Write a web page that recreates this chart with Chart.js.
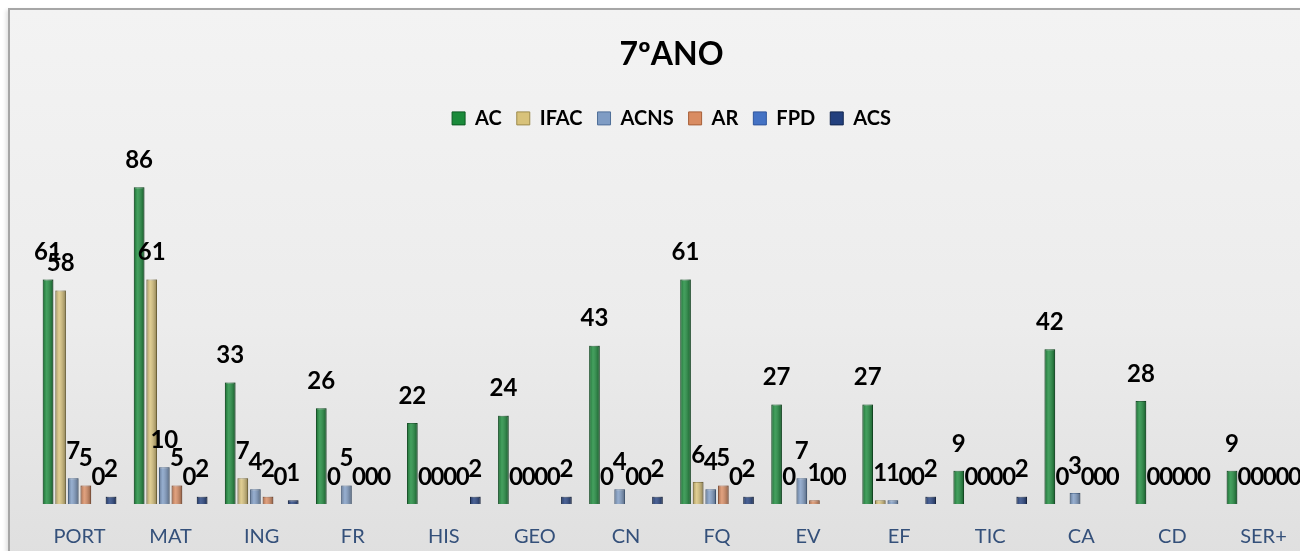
<!DOCTYPE html>
<html>
<head>
<meta charset="utf-8">
<title>7ºANO</title>
<script src="https://cdn.jsdelivr.net/npm/chart.js@4/dist/chart.umd.min.js"></script>
<style>
  html, body { margin: 0; padding: 0; width: 1300px; height: 551px; overflow: hidden; background: #fff; }
  #frame {
    position: absolute; left: 8px; top: 8px; width: 1320px; height: 570px;
    border: 2px solid #a6a6a6;
    background: linear-gradient(#f3f3f3 0%, #ececec 55%, #dedede 100%);
    box-shadow: -2px 2px 4px rgba(0,0,0,0.12);
  }
  #wrap { position: absolute; left: 10px; top: 10px; width: 1300px; height: 563px; }
</style>
</head>
<body>
<div id="frame"></div>
<div id="wrap"><canvas id="chart7"></canvas></div>
<script>
// disciplinas
const categories = ['PORT', 'MAT', 'ING', 'FR', 'HIS', 'GEO', 'CN', 'FQ', 'EV', 'EF', 'TIC', 'CA', 'CD', 'SER+'];

// valores por serie
const acValues   = [61, 86, 33, 26, 22, 24, 43, 61, 27, 27, 9, 42, 28, 9];
const ifacValues = [58, 61, 7, 0, 0, 0, 0, 6, 0, 1, 0, 0, 0, 0];
const acnsValues = [7, 10, 4, 5, 0, 0, 4, 4, 7, 1, 0, 3, 0, 0];
const arValues   = [5, 5, 2, 0, 0, 0, 0, 5, 1, 0, 0, 0, 0, 0];
const fpdValues  = [0, 0, 0, 0, 0, 0, 0, 0, 0, 0, 0, 0, 0, 0];
const acsValues  = [2, 2, 1, 0, 2, 2, 2, 2, 0, 2, 2, 0, 0, 0];

const seriesNames  = ['AC', 'IFAC', 'ACNS', 'AR', 'FPD', 'ACS'];
const seriesColors = ['#1a8a3a', '#d8c27a', '#7f9cc4', '#d98c62', '#4472c4', '#23407e'];
const seriesBorder = ['#0b5a22', '#9c8a4c', '#4f6f99', '#a75e38', '#2f559c', '#12264f'];

const allValues = [acValues, ifacValues, acnsValues, arValues, fpdValues, acsValues];

// rótulos de valor por cima das barras
const valueLabels = {
    id: 'valueLabels',
    afterDatasetsDraw: function(chart) {
        const ctx = chart.ctx;
        ctx.save();
        // leve efeito 3D nas barras
        chart.data.datasets.forEach(function(ds, i) {
            chart.getDatasetMeta(i).data.forEach(function(bar) {
                const h = bar.base - bar.y;
                if (h <= 0) return;
                const left = bar.x - bar.width / 2;
                const g = ctx.createLinearGradient(left, 0, left + bar.width, 0);
                g.addColorStop(0, 'rgba(0,0,0,0.25)');
                g.addColorStop(0.35, 'rgba(255,255,255,0.18)');
                g.addColorStop(1, 'rgba(0,0,0,0.35)');
                ctx.fillStyle = g;
                ctx.fillRect(left, bar.y, bar.width, h);
            });
        });
        ctx.font = 'bold 24px Lato, "Open Sans", sans-serif';
        ctx.fillStyle = '#000';
        ctx.textAlign = 'center';
        ctx.textBaseline = 'middle';
        chart.data.datasets.forEach(function(ds, i) {
            chart.getDatasetMeta(i).data.forEach(function(bar, j) {
                ctx.fillText(String(ds.data[j]), bar.x, bar.y - 27);
            });
        });
        ctx.restore();
    }
};

window.initializeChart = function(ctx) {
    let chart7 = new Chart(ctx, {
        type: 'bar',
        data: {
            labels: categories,
            datasets: seriesNames.map(function(name, i) {
                return {
                    label: name,
                    data: allValues[i],
                    backgroundColor: seriesColors[i],
                    borderColor: seriesBorder[i],
                    borderWidth: 1,
                    categoryPercentage: 0.83,
                    barPercentage: 0.84
                };
            })
        },
        options: {
            responsive: true,
            maintainAspectRatio: false,
            animation: false,
            layout: { padding: { left: 24, right: 1, top: 0, bottom: 3 } },
            plugins: {
                title: {
                    display: true,
                    text: '7ºANO',
                    color: '#000',
                    font: { family: 'Lato, "Open Sans", sans-serif', size: 32, weight: 'bold' },
                    padding: { top: 25, bottom: 20 }
                },
                legend: {
                    display: true,
                    labels: {
                        color: '#000',
                        font: { family: 'Lato, "Open Sans", sans-serif', size: 20, weight: 'bold' },
                        boxWidth: 13,
                        boxHeight: 13,
                        padding: 15
                    }
                },
                tooltip: { enabled: false }
            },
            scales: {
                x: {
                    grid: { display: false, drawTicks: false },
                    border: { display: false },
                    ticks: {
                        color: '#34507a',
                        padding: 21,
                        font: { family: 'Lato, "Open Sans", sans-serif', size: 20 }
                    }
                },
                y: {
                    display: false,
                    min: 0,
                    max: 99.3
                }
            }
        },
        plugins: [valueLabels]
    });
    return chart7;
};

initializeChart(document.getElementById('chart7'));
</script>
</body>
</html>
